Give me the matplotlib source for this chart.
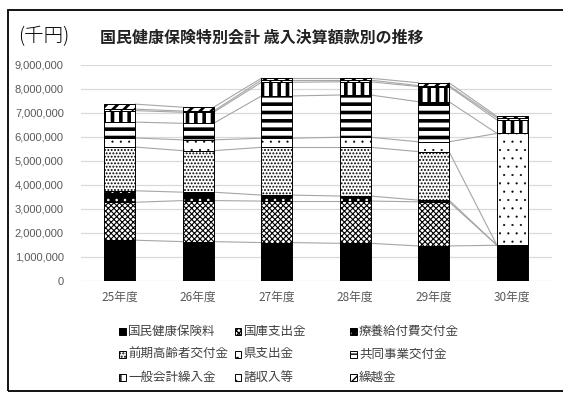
import matplotlib.pyplot as plt
import numpy as np
from matplotlib.patches import Rectangle
from matplotlib.ticker import FuncFormatter

plt.rcParams['font.family'] = ['Noto Sans CJK JP', 'DejaVu Sans']

years = ['25年度', '26年度', '27年度', '28年度', '29年度', '30年度']

# 歳入決算額（千円）
hoken_ryo = [1700000, 1640000, 1600000, 1570000, 1460000, 1490000]
kokko = [1580000, 1710000, 1730000, 1760000, 1840000, 0]
ryoyo = [480000, 350000, 250000, 210000, 70000, 0]
zenki = [1820000, 1730000, 1990000, 2030000, 2020000, 0]
ken = [380000, 450000, 380000, 420000, 410000, 4660000]
kyodo = [660000, 690000, 1760000, 1760000, 1670000, 0]
ippan = [480000, 460000, 570000, 550000, 630000, 560000]
shoshu = [60000, 50000, 90000, 70000, 40000, 90000]
kurikoshi = [210000, 160000, 80000, 80000, 120000, 60000]

names = ['国民健康保険料', '国庫支出金', '療養給付費交付金',
         '前期高齢者交付金', '県支出金', '共同事業交付金',
         '一般会計繰入金', '諸収入等', '繰越金']
series = [hoken_ryo, kokko, ryoyo, zenki, ken, kyodo, ippan, shoshu, kurikoshi]

# face colour, hatch colour, hatch, hatch line width
styles = [
    ('black', 'black', None, 1.0),
    ('white', 'black', 'xxxxxx', 0.8),
    ('black', 'white', '..', 0.6),
    ('white', 'black', '.....', 0.9),
    ('white', 'black', '..', 0.3),
    ('white', 'black', '--', 2.6),
    ('white', 'black', '||', 2.6),
    ('white', 'black', '\\\\\\', 1.0),
    ('white', 'black', '///', 2.0),
]

W, H = 563, 394
fig = plt.figure(figsize=(W / 100, H / 100), dpi=100)
ax = fig.add_axes([80.5 / W, (H - 281) / H, 471 / W, 216 / H])

x = np.arange(len(years))
width = 0.39
data = np.array(series, dtype=float)
tops = np.cumsum(data, axis=0)
bottoms = tops - data

for k in range(len(series)):
    face, hcol, hatch, hlw = styles[k]
    bars = ax.bar(x, data[k], width, bottom=bottoms[k], color=face,
                  edgecolor=hcol, hatch=hatch, linewidth=0, zorder=3)
    for b in bars:
        if hasattr(b, 'set_hatch_linewidth'):
            b.set_hatch_linewidth(hlw)
    ax.bar(x, data[k], width, bottom=bottoms[k], fill=False,
           edgecolor='black', linewidth=0.7, zorder=4)
    # series lines between neighbouring bars
    for i in range(len(x) - 1):
        ax.plot([x[i] + width / 2, x[i + 1] - width / 2],
                [tops[k][i], tops[k][i + 1]],
                color='#a6a6a6', lw=0.8, zorder=2)

ax.set_xlim(-0.5, len(x) - 0.5)
ax.set_ylim(0, 9000000)
ax.set_yticks(np.arange(0, 9000001, 1000000))
ax.yaxis.set_major_formatter(FuncFormatter(lambda v, p: '{:,.0f}'.format(v)))
ax.set_xticks(x)
ax.set_xticklabels(years)
ax.tick_params(axis='both', length=0, colors='#595959', labelsize=8.5)
ax.tick_params(axis='y', pad=12)
ax.tick_params(axis='x', pad=7)
for lab in ax.get_yticklabels():
    lab.set_family(['Liberation Sans', 'DejaVu Sans'])
    lab.set_fontsize(8)
ax.yaxis.grid(True, color='#d9d9d9', lw=0.9)
ax.set_axisbelow(True)
for s in ax.spines.values():
    s.set_visible(False)

fig.text(18 / W, 1 - 37 / H, '(千円)', fontsize=14, va='center', ha='left',
         fontweight='light')
fig.text(100 / W, 1 - 37 / H, '国民健康保険特別会計 歳入決算額款別の推移',
         fontsize=11.5, fontweight='bold', va='center', ha='left',
         color='#222222')

# legend, three columns
for i, name in enumerate(names):
    col, row = i % 3, i // 3
    mx = 119 + col * 115.5
    my = 331 + row * 23
    face, hcol, hatch, hlw = styles[i]
    sq = Rectangle((mx / W, 1 - (my + 3.5) / H), 7 / W, 7 / H,
                   transform=fig.transFigure, facecolor=face, edgecolor=hcol,
                   hatch=hatch, linewidth=0)
    fig.add_artist(sq)
    fig.add_artist(Rectangle((mx / W, 1 - (my + 3.5) / H), 7 / W, 7 / H,
                             transform=fig.transFigure, fill=False,
                             edgecolor='black', linewidth=0.7))
    fig.text((mx + 9) / W, 1 - my / H, name, fontsize=9, va='center',
             ha='left', color='#404040')

fig.add_artist(Rectangle((8 / W, 1 - 391 / H), 1.0, 381 / H,
                         transform=fig.transFigure, fill=False,
                         edgecolor='black', linewidth=1.3))

fig.savefig('out.png', dpi=100)
